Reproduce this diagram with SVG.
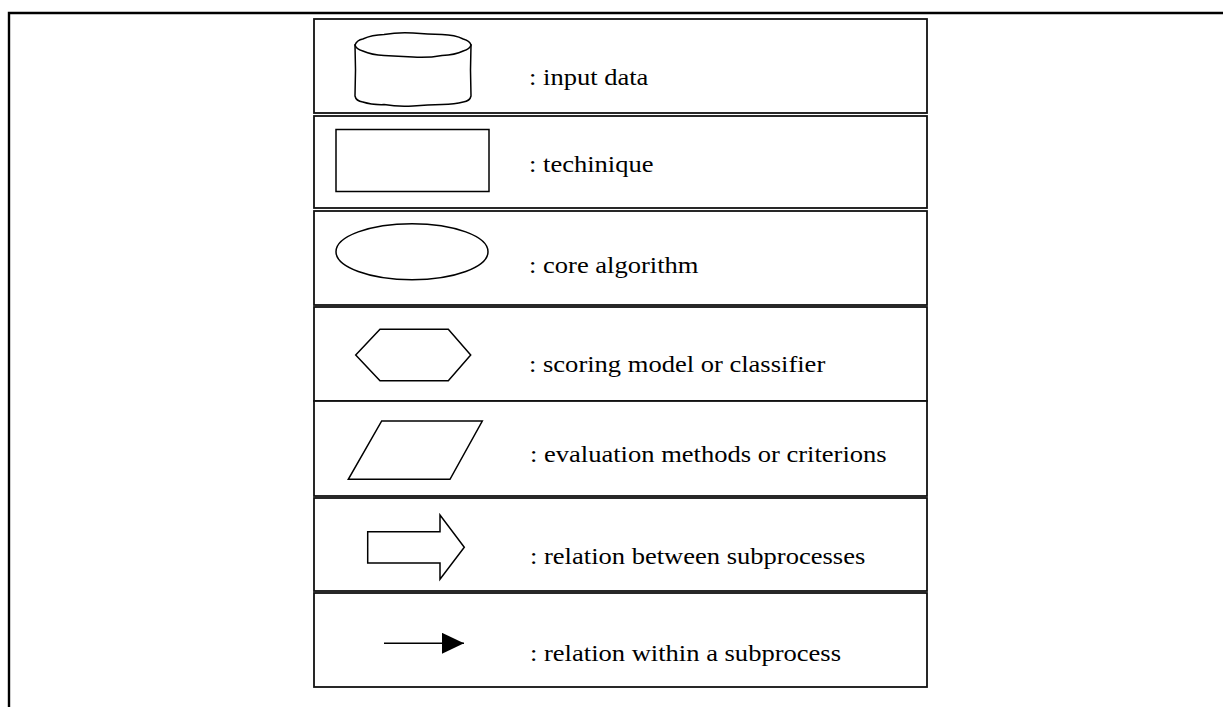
<svg xmlns="http://www.w3.org/2000/svg" width="1223" height="707" viewBox="0 0 1223 707">
  <style>
    .frame { stroke: #000; stroke-width: 2.4; fill: none; }
    .cell { fill: #fff; stroke: #111; stroke-width: 1.8; }
    .shape { fill: #fff; stroke: #000; stroke-width: 1.5; stroke-linejoin: miter; }
    .label { font-family: 'Times New Roman', 'Liberation Serif', serif; font-size: 22.5px; fill: #000; }
  </style>
  <defs>
    <marker id="solidHead" viewBox="0 0 22 21" refX="22" refY="10.5" markerWidth="22" markerHeight="21" markerUnits="userSpaceOnUse" orient="auto">
      <path d="M0,0 L22,10.5 L0,21 Z" fill="#000"/>
    </marker>
  </defs>

  <rect width="1223" height="707" fill="#fff"/>

  <!-- page frame: top rule and left rule -->
  <g id="page-frame">
    <path class="frame" d="M9,707 L9,13 L1223,13"/>
  </g>

  <!-- legend rows; labels are widened 1.18x horizontally -->
  <g id="row-input-data">
    <rect class="cell" x="314" y="19" width="613" height="94"/>
    <path class="shape" d="M355,45 L355.5,70 L355,96 Q356,101 362.8,102 Q372,105 384,104.6 Q398,107 413,106 Q428,105 442,104.6 Q455,104 463.2,102 Q470,101 471,96 L470.5,70 L471,45 Z"/>
    <path class="shape" d="M355,45 Q357,40 362.8,39 Q372,35 384,34.6 Q398,32 413,33 Q428,34 442,34.6 Q455,35 463.2,39 Q470,41 471,45 Q470,49 463.2,51 Q455,55 442,55.4 Q428,58 413,57 Q398,56 384,55.4 Q372,55 362.8,51 Q356,49 355,45 Z"/>
    <text class="label" transform="translate(529 85) scale(1.18 1)">: input data</text>
  </g>

  <g id="row-technique">
    <rect class="cell" x="314" y="116" width="613" height="92"/>
    <rect class="shape" x="336" y="129.5" width="153" height="62"/>
    <text class="label" transform="translate(529 171.5) scale(1.18 1)">: techinique</text>
  </g>

  <g id="row-core-algorithm">
    <rect class="cell" x="314" y="211" width="613" height="94"/>
    <ellipse class="shape" cx="412" cy="251.7" rx="76" ry="28"/>
    <text class="label" transform="translate(529 273) scale(1.18 1)">: core algorithm</text>
  </g>

  <g id="row-scoring-model">
    <rect class="cell" x="314" y="307" width="613" height="94"/>
    <polygon class="shape" points="355.7,355 380,329.3 448.3,329.3 470.7,355 448.3,380.7 380,380.7"/>
    <text class="label" transform="translate(529 372) scale(1.18 1)">: scoring model or classifier</text>
  </g>

  <g id="row-evaluation">
    <rect class="cell" x="314" y="401" width="613" height="95"/>
    <polygon class="shape" points="381.7,421 482.3,421 450,479.3 348.3,479.3"/>
    <text class="label" transform="translate(530 462) scale(1.18 1)">: evaluation methods or criterions</text>
  </g>

  <g id="row-between-subprocesses">
    <rect class="cell" x="314" y="498" width="613" height="93"/>
    <polygon class="shape" points="367.7,531.7 440,531.7 440,515 464.3,547.3 440,579.3 440,563 367.7,563"/>
    <text class="label" transform="translate(530 564) scale(1.18 1)">: relation between subprocesses</text>
  </g>

  <g id="row-within-subprocess">
    <rect class="cell" x="314" y="593" width="613" height="94"/>
    <text class="label" transform="translate(530 661) scale(1.18 1)">: relation within a subprocess</text>
  </g>

  <!-- sample connector -->
  <g id="connectors">
    <line x1="384" y1="643.3" x2="464" y2="643.3" stroke="#000" stroke-width="1.6" marker-end="url(#solidHead)"/>
  </g>
</svg>
